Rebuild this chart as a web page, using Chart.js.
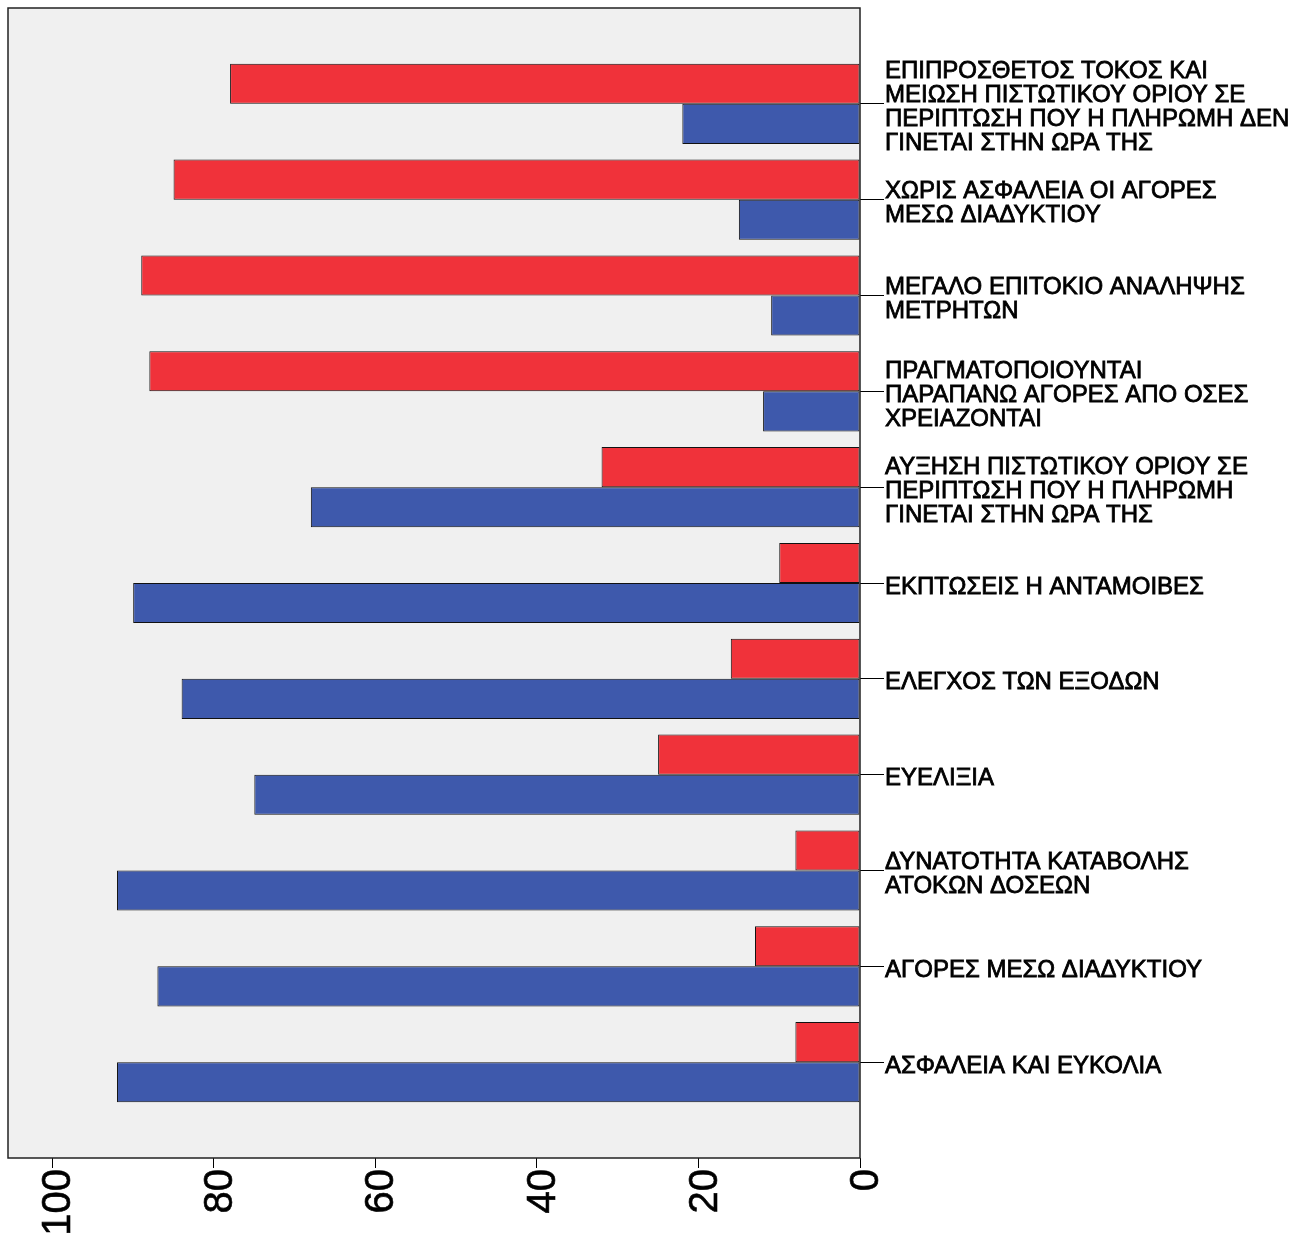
<!DOCTYPE html>
<html>
<head>
<meta charset="utf-8">
<script src="https://cdn.jsdelivr.net/npm/chart.js@4/dist/chart.umd.min.js"></script>
<style>
  body { margin: 0; background: #fff; }
</style>
</head>
<body>
<canvas id="bars" width="1303" height="1247"></canvas>
<script>
// categories, top to bottom
const categories = [
  ['ΕΠΙΠΡΟΣΘΕΤΟΣ ΤΟΚΟΣ ΚΑΙ', 'ΜΕΙΩΣΗ ΠΙΣΤΩΤΙΚΟΥ ΟΡΙΟΥ ΣΕ', 'ΠΕΡΙΠΤΩΣΗ ΠΟΥ Η ΠΛΗΡΩΜΗ ΔΕΝ', 'ΓΙΝΕΤΑΙ ΣΤΗΝ ΩΡΑ ΤΗΣ'],
  ['ΧΩΡΙΣ ΑΣΦΑΛΕΙΑ ΟΙ ΑΓΟΡΕΣ', 'ΜΕΣΩ ΔΙΑΔΥΚΤΙΟΥ'],
  ['ΜΕΓΑΛΟ ΕΠΙΤΟΚΙΟ ΑΝΑΛΗΨΗΣ', 'ΜΕΤΡΗΤΩΝ'],
  ['ΠΡΑΓΜΑΤΟΠΟΙΟΥΝΤΑΙ', 'ΠΑΡΑΠΑΝΩ ΑΓΟΡΕΣ ΑΠΟ ΟΣΕΣ', 'ΧΡΕΙΑΖΟΝΤΑΙ'],
  ['ΑΥΞΗΣΗ ΠΙΣΤΩΤΙΚΟΥ ΟΡΙΟΥ ΣΕ', 'ΠΕΡΙΠΤΩΣΗ ΠΟΥ Η ΠΛΗΡΩΜΗ', 'ΓΙΝΕΤΑΙ ΣΤΗΝ ΩΡΑ ΤΗΣ'],
  'ΕΚΠΤΩΣΕΙΣ Η ΑΝΤΑΜΟΙΒΕΣ',
  'ΕΛΕΓΧΟΣ ΤΩΝ ΕΞΟΔΩΝ',
  'ΕΥΕΛΙΞΙΑ',
  ['ΔΥΝΑΤΟΤΗΤΑ ΚΑΤΑΒΟΛΗΣ', 'ΑΤΟΚΩΝ ΔΟΣΕΩΝ'],
  'ΑΓΟΡΕΣ ΜΕΣΩ ΔΙΑΔΥΚΤΙΟΥ',
  'ΑΣΦΑΛΕΙΑ ΚΑΙ ΕΥΚΟΛΙΑ'
];

const redValues = [78, 85, 89, 88, 32, 10, 16, 25, 8, 13, 8];
const blueValues = [22, 15, 11, 12, 68, 90, 84, 75, 92, 87, 92];

const xTicks = [0, 20, 40, 60, 80, 100];

// an empty slot at each end gives the spss-like margin above and below the bars
const labels = [''].concat(categories, ['']);
const pad = (arr) => [null].concat(arr, [null]);

const FONT = "'Liberation Sans', Arial, sans-serif";

const panel = {
  id: 'panel',
  beforeDraw(chart) {
    const { ctx, chartArea: a } = chart;
    ctx.save();
    ctx.fillStyle = '#f0f0f0';
    ctx.fillRect(a.left, a.top, a.right - a.left, a.bottom - a.top);
    ctx.restore();
  },
  afterDatasetsDraw(chart) {
    const { ctx, chartArea: a } = chart;
    ctx.save();
    ctx.strokeStyle = '#222';
    ctx.lineWidth = 1.5;
    ctx.strokeRect(a.left, a.top, a.right - a.left, a.bottom - a.top);
    ctx.restore();
  }
};

let bar = new Chart(document.getElementById('bars'), {
  type: 'bar',
  data: {
    labels: labels,
    datasets: [
      {
        label: 'red',
        data: pad(redValues),
        backgroundColor: '#f0323a',
        borderColor: '#111',
        borderWidth: 1,
        borderSkipped: false
      },
      {
        label: 'blue',
        data: pad(blueValues),
        backgroundColor: '#3e59ac',
        borderColor: '#111',
        borderWidth: 1,
        borderSkipped: false
      }
    ]
  },
  options: {
    indexAxis: 'y',
    responsive: false,
    devicePixelRatio: 1,
    animation: false,
    categoryPercentage: 0.837,
    barPercentage: 1,
    layout: { padding: { left: 8, top: 8, right: 0, bottom: 0 } },
    plugins: {
      legend: { display: false },
      tooltip: { enabled: false }
    },
    scales: {
      x: {
        type: 'linear',
        reverse: true,
        min: 0,
        max: 105.5,
        border: { display: false },
        grid: {
          drawOnChartArea: false,
          tickLength: 10,
          color: '#000',
          lineWidth: 1
        },
        afterBuildTicks: (scale) => {
          scale.ticks = xTicks.map(v => ({ value: v }));
        },
        afterFit: (scale) => {
          scale.height = 89;
          scale.paddingLeft = 0;
          scale.paddingRight = 0;
        },
        ticks: {
          minRotation: 90,
          maxRotation: 90,
          padding: 1,
          labelOffset: 7,
          color: '#000',
          textStrokeColor: '#000',
          textStrokeWidth: 0.6,
          font: { family: FONT, size: 40 }
        }
      },
      y: {
        type: 'category',
        position: 'right',
        offset: false,
        border: { display: false },
        grid: {
          offset: false,
          drawOnChartArea: false,
          tickLength: 24,
          lineWidth: 1,
          color: (ctx) => (ctx.index === 0 || ctx.index === labels.length - 1) ? 'rgba(0,0,0,0)' : '#000'
        },
        afterFit: (scale) => {
          scale.width = 443;
          scale.paddingTop = 0;
          scale.paddingBottom = 0;
        },
        ticks: {
          autoSkip: false,
          padding: 1,
          labelOffset: 4,
          color: '#000',
          textStrokeColor: '#000',
          textStrokeWidth: 0.8,
          font: { family: FONT, size: 24, lineHeight: 1 }
        }
      }
    }
  },
  plugins: [panel]
});
</script>
</body>
</html>
